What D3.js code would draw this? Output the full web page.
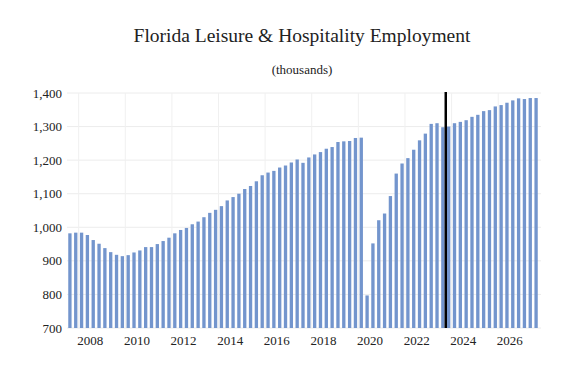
<!DOCTYPE html>
<html lang="en">
<head>
<meta charset="utf-8">
<title>Florida Leisure & Hospitality Employment</title>
<script src="https://cdn.jsdelivr.net/npm/d3@7"></script>
<style>
  body { margin: 0; background: #fff; }
  svg text { font-family: "Liberation Serif", "Times New Roman", serif; fill: #222; }
</style>
</head>
<body>
<svg width="579" height="374"></svg>
<script>
// quarterly series, first bar = 2007 Q3
var startYear = 2007, startQuarter = 3;
var values = [
  982, 984, 984, 977, 962, 951, 938, 926, 918, 914,
  917, 925, 931, 941, 941, 950, 959, 969, 982, 992,
  998, 1009, 1017, 1030, 1043, 1052, 1063, 1080, 1090, 1100,
  1114, 1123, 1137, 1155, 1163, 1168, 1178, 1184, 1193, 1202,
  1192, 1208, 1217, 1224, 1234, 1239, 1254, 1256, 1257, 1266,
  1267, 797, 952, 1021, 1041, 1093, 1160, 1190, 1206, 1231,
  1259, 1279, 1308, 1310, 1298, 1300, 1310, 1314, 1319, 1329,
  1335, 1346, 1349, 1360, 1364, 1371, 1378, 1384, 1382, 1385,
  1385
];
var yearLabels = ["2008", "2010", "2012", "2014", "2016", "2018", "2020", "2022", "2024", "2026"];
var yTicks = [700, 800, 900, 1000, 1100, 1200, 1300, 1400];
var forecastStart = "2023Q4";

var quarters = values.map(function (v, i) {
  var q = startQuarter - 1 + i;
  return (startYear + Math.floor(q / 4)) + "Q" + (q % 4 + 1);
});

var svg = d3.select("svg");
var plotL = 67, plotR = 539, plotT = 93, plotB = 328;

var x = d3.scaleBand()
  .domain(quarters)
  .range([plotL, plotR])
  .paddingInner(0.43)
  .paddingOuter(0.215);

var y = d3.scaleLinear()
  .domain([700, 1400])
  .range([plotB, plotT]);

function centre(q) { return x(q) + x.bandwidth() / 2; }
var step = x.step();

// grid
svg.append("g")
  .selectAll("line")
  .data(yTicks)
  .enter()
    .append("line")
    .attr("x1", plotL).attr("x2", plotR + 2)
    .attr("y1", function (d) { return y(d); })
    .attr("y2", function (d) { return y(d); })
    .attr("stroke", "#ececec")
    .attr("stroke-width", 1);

svg.append("g")
  .selectAll("line")
  .data(yearLabels)
  .enter()
    .append("line")
    .attr("x1", function (d) { return centre(d + "Q1") - step / 2; })
    .attr("x2", function (d) { return centre(d + "Q1") - step / 2; })
    .attr("y1", plotT).attr("y2", plotB)
    .attr("stroke", "#f0f0f0")
    .attr("stroke-width", 1);

// bars
svg.append("g")
  .selectAll("rect")
  .data(values)
  .enter()
    .append("rect")
    .attr("x", function (d, i) { return x(quarters[i]); })
    .attr("width", x.bandwidth())
    .attr("y", function (d) { return y(d); })
    .attr("height", function (d) { return y(700) - y(d); })
    .attr("fill", "#7395cd");

// forecast line
var fx = centre(forecastStart) - step / 2;
svg.append("line")
  .attr("x1", fx).attr("x2", fx)
  .attr("y1", plotT - 1).attr("y2", plotB)
  .attr("stroke", "#000")
  .attr("stroke-width", 2.5);

// y labels
svg.append("g")
  .selectAll("text")
  .data(yTicks)
  .enter()
    .append("text")
    .attr("x", 62)
    .attr("y", function (d) { return y(d); })
    .attr("dy", "0.35em")
    .attr("text-anchor", "end")
    .style("font-size", "13px")
    .text(d3.format(","));

// x labels, centred on each year's four quarters
svg.append("g")
  .selectAll("text")
  .data(yearLabels)
  .enter()
    .append("text")
    .attr("x", function (d) { return (centre(d + "Q1") + centre(d + "Q4")) / 2; })
    .attr("y", 345)
    .attr("text-anchor", "middle")
    .style("font-size", "13px")
    .text(function (d) { return d; });

svg.append("text")
  .attr("x", 302).attr("y", 42)
  .attr("text-anchor", "middle")
  .style("font-size", "19.5px")
  .text("Florida Leisure & Hospitality Employment");

svg.append("text")
  .attr("x", 302).attr("y", 74)
  .attr("text-anchor", "middle")
  .style("font-size", "13px")
  .text("(thousands)");
</script>
</body>
</html>
